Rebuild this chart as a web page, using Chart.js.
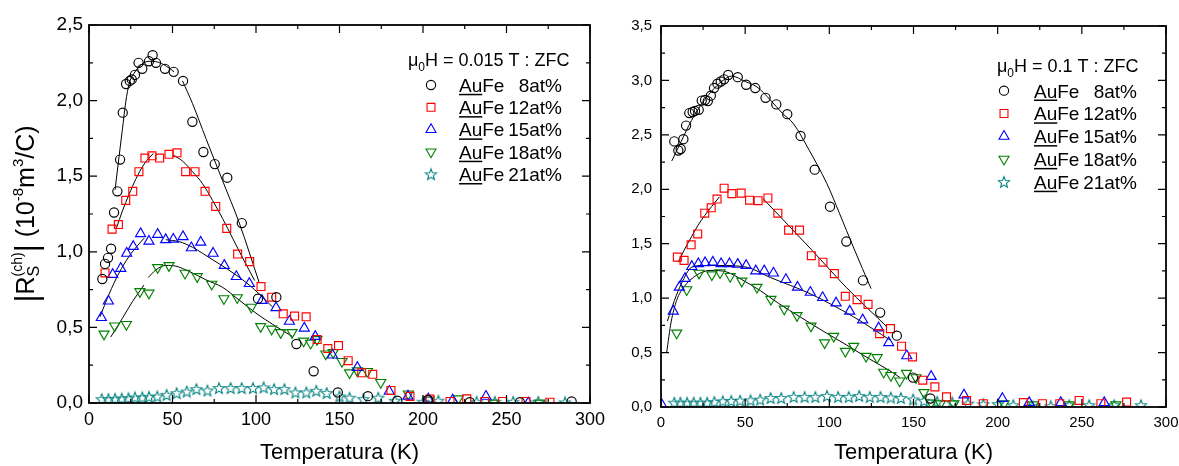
<!DOCTYPE html>
<html>
<head>
<meta charset="utf-8">
<script src="https://cdn.jsdelivr.net/npm/chart.js@4.4.1/dist/chart.umd.min.js"></script>
<style>
  html, body { margin: 0; padding: 0; background: #fff; }
  #wrap { position: relative; width: 1179px; height: 466px; overflow: hidden; }
  canvas { position: absolute; top: 0; }
</style>
</head>
<body>
<div id="wrap">
  <canvas id="panelA" width="620" height="466" style="left:0"></canvas>
  <canvas id="panelB" width="579" height="466" style="left:600px"></canvas>
</div>
<script>
// ---- data: panel A (mu0H = 0.015 T, ZFC) ----
const seriesNames = ['8at%', '12at%', '15at%', '18at%', '21at%'];

const tempA8 = [8.0, 9.6, 11.4, 13.2, 15.0, 17.0, 18.6, 20.2, 22.2, 24.4, 25.6, 27.5, 29.7, 31.9, 35.9, 38.1, 40.1, 45.5, 50.7, 56.3, 61.9, 68.5, 75.3, 82.8, 91.5, 101.2, 112.2, 124.2, 134.5, 149.0, 167.0, 184.6, 203.0, 228.0, 258.0, 289.0];
const rsA8   = [0.82, 0.92, 0.96, 1.02, 1.26, 1.40, 1.61, 1.92, 2.11, 2.13, 2.14, 2.17, 2.25, 2.21, 2.26, 2.30, 2.25, 2.21, 2.19, 2.13, 1.86, 1.66, 1.58, 1.49, 1.19, 0.69, 0.70, 0.39, 0.21, 0.07, 0.045, 0.015, 0.02, 0.005, 0.005, 0.01];

const tempA12 = [9.6, 13.8, 17.6, 22.0, 26.2, 29.9, 33.5, 37.7, 42.3, 47.9, 52.7, 57.9, 63.5, 69.5, 75.9, 82.5, 89.0, 96.2, 103.0, 109.4, 116.3, 123.1, 130.0, 136.6, 143.0, 149.4, 155.2, 163.3, 169.9, 180.8, 192.2, 204.2, 216.2, 226.2, 237.0, 247.7, 261.7, 276.0];
const rsA12   = [0.86, 1.15, 1.18, 1.34, 1.40, 1.53, 1.62, 1.635, 1.62, 1.645, 1.655, 1.53, 1.53, 1.40, 1.30, 1.155, 0.985, 0.935, 0.77, 0.70, 0.59, 0.575, 0.57, 0.42, 0.36, 0.38, 0.28, 0.20, 0.19, 0.083, 0.044, 0.026, 0.01, 0.028, 0.01, 0.01, 0.01, 0.005];

const tempA15 = [7.4, 11.6, 14.2, 19.0, 22.6, 26.5, 30.9, 35.9, 41.1, 45.9, 50.5, 56.3, 61.3, 66.9, 74.3, 81.0, 88.2, 96.0, 103.6, 112.0, 120.0, 128.9, 135.5, 145.8, 160.7, 179.8, 191.0, 203.2, 217.8, 237.7, 263.0];
const rsA15   = [0.565, 0.674, 0.85, 0.89, 0.99, 1.035, 1.12, 1.07, 1.115, 1.08, 1.083, 1.10, 1.026, 1.063, 0.99, 0.91, 0.836, 0.79, 0.678, 0.63, 0.54, 0.495, 0.44, 0.317, 0.235, 0.077, 0.045, 0.026, 0.02, 0.044, 0.0];

const tempA18 = [9.0, 15.4, 22.4, 30.5, 35.9, 41.1, 47.9, 57.5, 64.8, 73.5, 80.8, 88.8, 97.2, 102.8, 109.4, 114.8, 121.6, 128.5, 132.7, 136.5, 141.8, 146.2, 151.5, 156.0, 160.7, 166.7, 174.7, 191.2, 203.6, 221.1, 242.0, 270.0];
const rsA18   = [0.456, 0.51, 0.52, 0.737, 0.727, 0.896, 0.909, 0.859, 0.836, 0.786, 0.69, 0.697, 0.634, 0.506, 0.489, 0.466, 0.466, 0.41, 0.396, 0.42, 0.325, 0.334, 0.275, 0.20, 0.213, 0.209, 0.136, 0.06, 0.02, 0.028, 0.0, 0.0];

const tempA21 = [7.6, 11.6, 15.6, 19.6, 23.6, 27.5, 31.9, 35.9, 40.9, 46.5, 52.5, 58.5, 64.3, 70.9, 77.8, 84.8, 91.4, 98.2, 104.6, 110.8, 117.0, 123.6, 130.1, 136.1, 142.3, 150.0, 156.0, 164.3, 173.2, 183.2, 200.2, 209.2, 232.1, 243.0, 254.0, 269.0, 285.0];
const rsA21   = [0.026, 0.026, 0.028, 0.03, 0.032, 0.037, 0.037, 0.041, 0.043, 0.054, 0.065, 0.076, 0.092, 0.083, 0.099, 0.099, 0.099, 0.099, 0.103, 0.092, 0.092, 0.070, 0.070, 0.081, 0.066, 0.044, 0.035, 0.026, 0.035, 0.015, 0.008, 0.015, 0.008, 0.008, 0.008, 0.008, 0.004];

// guide-to-the-eye curves, panel A
const fitA8aT  = [15.6, 18, 20, 22, 24, 27, 31, 36, 41, 46, 51];
const fitA8aR  = [1.41, 1.63, 1.81, 1.99, 2.11, 2.18, 2.235, 2.26, 2.255, 2.23, 2.19];
const fitA8bT  = [56, 62, 70, 80, 90, 101.8];
const fitA8bR  = [2.13, 1.98, 1.75, 1.47, 1.19, 0.80];
const fitA12aT = [16.4, 20, 24, 28, 33, 38.5];
const fitA12aR = [1.156, 1.27, 1.38, 1.48, 1.58, 1.65];
const fitA12bT = [50.5, 56, 62, 68, 74, 80, 86, 92, 99.2];
const fitA12bR = [1.64, 1.60, 1.53, 1.45, 1.34, 1.22, 1.09, 0.96, 0.81];
const fitA15aT = [6.6, 12, 18, 24, 29, 33];
const fitA15aR = [0.57, 0.72, 0.86, 0.97, 1.04, 1.09];
const fitA15bT = [46, 54, 62, 68, 78, 88, 96, 102, 110];
const fitA15bR = [1.08, 1.067, 1.03, 0.99, 0.92, 0.847, 0.78, 0.72, 0.634];
const fitA18aT = [13, 20, 26, 32.9];
const fitA18aR = [0.436, 0.56, 0.67, 0.78];
const fitA18bT = [35.5, 40, 46, 52, 60, 70, 80, 90, 100, 110, 121.8];
const fitA18bR = [0.83, 0.88, 0.91, 0.905, 0.87, 0.815, 0.765, 0.68, 0.594, 0.52, 0.44];

// ---- data: panel B (mu0H = 0.1 T, ZFC) ----
const tempB8 = [7.9, 10.3, 11.7, 13.3, 14.9, 16.8, 18.8, 20.2, 22.4, 24.2, 26.2, 27.8, 29.6, 31.5, 33.5, 35.5, 37.5, 39.9, 45.6, 50.6, 56.0, 62.1, 68.5, 75.0, 82.9, 91.3, 100.4, 110.1, 120.0, 130.2, 140.1, 149.7, 160.0];
const rsB8   = [2.44, 2.356, 2.37, 2.46, 2.585, 2.70, 2.71, 2.72, 2.73, 2.815, 2.82, 2.81, 2.86, 2.93, 2.97, 2.99, 3.01, 3.05, 3.03, 2.96, 2.93, 2.84, 2.78, 2.69, 2.49, 2.18, 1.84, 1.52, 1.163, 0.867, 0.655, 0.27, 0.078];

const tempB12 = [9.7, 13.7, 17.9, 21.8, 26.0, 29.8, 33.3, 37.5, 42.1, 47.6, 52.6, 57.7, 63.5, 69.4, 75.8, 82.3, 89.3, 96.2, 103.0, 109.5, 116.5, 123.0, 129.9, 136.3, 142.9, 149.4, 155.5, 162.7, 169.6, 181.5, 191.5, 215.3, 226.6, 236.9, 248.4, 261.3, 276.6];
const rsB12   = [1.377, 1.347, 1.49, 1.59, 1.78, 1.83, 1.91, 2.01, 1.96, 1.965, 1.90, 1.895, 1.92, 1.78, 1.625, 1.625, 1.39, 1.33, 1.225, 1.017, 0.986, 0.943, 0.674, 0.72, 0.558, 0.46, 0.246, 0.185, 0.093, 0.06, 0.03, 0.04, 0.03, 0.03, 0.06, 0.03, 0.045];

const tempB15 = [0.5, 7.3, 10.9, 14.3, 18.3, 22.2, 26.2, 30.8, 35.7, 40.7, 45.6, 50.6, 56.3, 61.3, 66.8, 74.2, 81.1, 88.7, 96.0, 104.0, 112.1, 119.8, 129.3, 135.3, 146.0, 160.5, 180.0, 202.8, 218.7, 237.5, 263.3];
const rsB15   = [0.02, 0.88, 1.10, 1.18, 1.29, 1.316, 1.325, 1.33, 1.316, 1.316, 1.31, 1.30, 1.25, 1.25, 1.23, 1.17, 1.10, 1.053, 1.005, 0.955, 0.88, 0.80, 0.726, 0.59, 0.47, 0.28, 0.11, 0.078, 0.04, 0.04, 0.04];

const tempB18 = [9.3, 15.3, 22.6, 30.2, 35.1, 41.1, 48.0, 57.0, 65.3, 73.2, 80.8, 89.1, 97.2, 102.6, 109.5, 114.5, 121.8, 128.4, 132.3, 136.6, 141.8, 145.8, 151.5, 156.2, 160.5, 166.0, 174.0, 203.8, 221.2, 242.5, 270.2];
const rsB18   = [0.68, 1.078, 1.23, 1.215, 1.234, 1.20, 1.157, 1.10, 0.989, 0.90, 0.84, 0.744, 0.59, 0.65, 0.512, 0.558, 0.466, 0.454, 0.32, 0.29, 0.24, 0.31, 0.27, 0.133, 0.038, 0.03, 0.03, 0.03, 0.02, 0.02, 0.02];

const tempB21 = [7.9, 11.5, 15.5, 19.4, 23.4, 27.4, 31.7, 36.7, 41.7, 47.0, 53.2, 58.9, 65.1, 71.4, 78.8, 85.3, 91.7, 98.6, 105.2, 111.5, 117.7, 124.0, 130.4, 136.5, 142.5, 149.8, 156.2, 164.1, 173.0, 182.3, 191.5, 200.2, 209.3, 220.6, 231.5, 242.5, 254.4, 269.2, 285.1];
const rsB21   = [0.04, 0.04, 0.04, 0.04, 0.04, 0.04, 0.047, 0.053, 0.056, 0.059, 0.062, 0.068, 0.083, 0.083, 0.093, 0.093, 0.093, 0.102, 0.093, 0.093, 0.102, 0.093, 0.093, 0.087, 0.083, 0.069, 0.057, 0.048, 0.042, 0.032, 0.026, 0.026, 0.017, 0.008, 0.008, 0.017, 0.017, 0.017, 0.017];

// guide-to-the-eye curves, panel B
const fitB8T   = [6.4, 12, 18, 24, 30, 36, 42, 50, 57, 65, 72, 78.8, 88, 98.6, 106, 114.5, 124.8];
const fitB8R   = [2.26, 2.44, 2.63, 2.78, 2.90, 2.99, 3.04, 2.99, 2.94, 2.82, 2.70, 2.60, 2.36, 2.05, 1.78, 1.46, 1.087];
const fitB12aT = [10.3, 13.7, 18, 22, 26, 30, 34.7];
const fitB12aR = [1.33, 1.44, 1.56, 1.67, 1.76, 1.84, 1.93];
const fitB12bT = [60.9, 75, 89.7, 110, 134.3];
const fitB12bR = [1.91, 1.68, 1.44, 1.10, 0.735];
const fitB15T  = [3.8, 8, 12, 18.3, 25, 35, 50.6, 64.9, 88.7, 114.5, 136.3];
const fitB15R  = [0.79, 0.98, 1.13, 1.285, 1.30, 1.30, 1.285, 1.19, 1.04, 0.827, 0.613];
const fitB18T  = [3.4, 6, 9.3, 14, 19.2, 24, 29.2, 39.1, 48, 58.9, 70, 82.7, 96, 110.5, 124, 138.3, 142];
const fitB18R  = [0.505, 0.78, 0.98, 1.11, 1.19, 1.235, 1.255, 1.24, 1.17, 1.07, 0.95, 0.827, 0.70, 0.567, 0.44, 0.31, 0.27];

// ---- drawing ----
const FONT = '"Liberation Sans", Arial, Helvetica, sans-serif';

const pts = (xs, ys) => xs.map((x, i) => ({ x: x, y: ys[i] }));

function starImage(color) {
  const c = document.createElement('canvas');
  c.width = 14; c.height = 14;
  const g = c.getContext('2d');
  g.strokeStyle = color;
  g.lineWidth = 1.1;
  g.beginPath();
  for (let i = 0; i < 10; i++) {
    const r = i % 2 ? 2.5 : 5.8;
    const a = -Math.PI / 2 + i * Math.PI / 5;
    const px = 7 + r * Math.cos(a), py = 7.6 + r * Math.sin(a);
    if (i === 0) g.moveTo(px, py); else g.lineTo(px, py);
  }
  g.closePath();
  g.stroke();
  return c;
}

const markers = [
  { color: '#000000', style: 'circle', radius: 4.6, rotation: 0 },
  { color: '#ff0000', style: 'rect', radius: 5.6, rotation: 0 },
  { color: '#0000ff', style: 'triangle', radius: 5.8, rotation: 0 },
  { color: '#008000', style: 'triangle', radius: 5.8, rotation: 180 },
  { color: '#008080', style: starImage('#008080'), radius: 5, rotation: 0 }
];

function markerSet(i, xs, ys) {
  const m = markers[i];
  return {
    data: pts(xs, ys),
    showLine: false,
    pointStyle: m.style,
    pointRadius: m.radius,
    pointRotation: m.rotation,
    borderColor: m.color,
    pointBorderColor: m.color,
    backgroundColor: 'rgba(0,0,0,0)',
    pointBackgroundColor: 'rgba(0,0,0,0)',
    pointBorderWidth: 1.15
  };
}

function fitSet(xs, ys) {
  return {
    data: pts(xs, ys),
    showLine: true,
    pointRadius: 0,
    borderColor: '#000',
    borderWidth: 1,
    tension: 0.4,
    cubicInterpolationMode: 'monotone',
    fill: false
  };
}

// box around the plot with inward major/minor ticks on all four sides
const frame = {
  id: 'frame',
  afterDraw(chart) {
    const { ctx, chartArea: a } = chart;
    const x = chart.scales.x, y = chart.scales.y;
    ctx.save();
    ctx.strokeStyle = '#000';
    ctx.lineWidth = 1.2;
    ctx.beginPath();
    const xv = x.ticks.map(t => t.value);
    xv.forEach((v, i) => {
      const p = x.getPixelForValue(v);
      ctx.moveTo(p, a.bottom); ctx.lineTo(p, a.bottom - 8);
      ctx.moveTo(p, a.top); ctx.lineTo(p, a.top + 8);
      if (i < xv.length - 1) {
        const m = x.getPixelForValue((v + xv[i + 1]) / 2);
        ctx.moveTo(m, a.bottom); ctx.lineTo(m, a.bottom - 4);
        ctx.moveTo(m, a.top); ctx.lineTo(m, a.top + 4);
      }
    });
    const yv = y.ticks.map(t => t.value);
    yv.forEach((v, i) => {
      const p = y.getPixelForValue(v);
      ctx.moveTo(a.left, p); ctx.lineTo(a.left + 8, p);
      ctx.moveTo(a.right, p); ctx.lineTo(a.right - 8, p);
      if (i < yv.length - 1) {
        const m = y.getPixelForValue((v + yv[i + 1]) / 2);
        ctx.moveTo(a.left, m); ctx.lineTo(a.left + 4, m);
        ctx.moveTo(a.right, m); ctx.lineTo(a.right - 4, m);
      }
    });
    ctx.stroke();
    ctx.lineWidth = 1.8;
    ctx.strokeRect(a.left, a.top, a.right - a.left, a.bottom - a.top);
    ctx.restore();
  }
};

// axis titles and the in-plot legend
const notes = {
  id: 'notes',
  afterDraw(chart, args, o) {
    const ctx = chart.ctx, a = chart.chartArea;
    ctx.save();
    ctx.fillStyle = '#000';
    ctx.textBaseline = 'alphabetic';

    ctx.font = '22px ' + FONT;
    ctx.textAlign = 'center';
    ctx.fillText('Temperatura (K)', (a.left + a.right) / 2, o.xTitleY);

    // legend title: mu0H = ... T : ZFC
    ctx.textAlign = 'left';
    let lx = o.titleX;
    ctx.font = '18px ' + FONT;
    ctx.fillText('\u03bc', lx, o.titleY);
    lx += ctx.measureText('\u03bc').width;
    ctx.font = '12px ' + FONT;
    ctx.fillText('0', lx, o.titleY + 5);
    lx += ctx.measureText('0').width;
    ctx.font = '18px ' + FONT;
    ctx.fillText('H = ' + o.field + ' T : ZFC', lx, o.titleY);

    // legend rows
    seriesNames.forEach((name, i) => {
      const ds = chart.data.datasets[i];
      const cy = o.rowY0 + i * o.rowStep;
      ctx.save();
      ctx.strokeStyle = ds.borderColor;
      ctx.fillStyle = 'rgba(0,0,0,0)';
      ctx.lineWidth = 1.1;
      Chart.helpers.drawPoint(ctx, {
        pointStyle: ds.pointStyle, rotation: ds.pointRotation,
        radius: ds.pointRadius, borderWidth: 1.1
      }, o.markX, cy);
      ctx.restore();
      const by = cy + 6.8;
      ctx.font = '19px ' + FONT;
      ctx.textAlign = 'left';
      ctx.fillText('Au', o.textX, by);
      const wAu = ctx.measureText('Au').width;
      ctx.fillText('Fe', o.textX + wAu, by);
      ctx.fillRect(o.textX, by + 2, wAu, 1.5);
      ctx.textAlign = 'right';
      ctx.fillText(name, o.textEnd, by);
    });

    // rotated y title: |R_S^(ch)| (10^-8 m^3/C)
    if (o.yTitleX) {
      const parts = [
        { t: '|', size: 31, dy: 3 },
        { t: 'R', size: 25, dy: 0 },
        { t: 'S', size: 16, dy: 5, sup: '(ch)', supSize: 14, supDy: -12 },
        { t: '|', size: 31, dy: 3 },
        { t: ' (10', size: 25, dy: 0 },
        { t: '-8', size: 15, dy: -11 },
        { t: 'm', size: 25, dy: 0 },
        { t: '3', size: 15, dy: -11 },
        { t: '/C)', size: 25, dy: 0 }
      ];
      const width = p => {
        ctx.font = p.size + 'px ' + FONT;
        let w = ctx.measureText(p.t).width;
        if (p.sup) {
          ctx.font = p.supSize + 'px ' + FONT;
          w = Math.max(w, ctx.measureText(p.sup).width);
        }
        return w;
      };
      const total = parts.reduce((s, p) => s + width(p), 0);
      ctx.translate(o.yTitleX, (a.top + a.bottom) / 2);
      ctx.rotate(-Math.PI / 2);
      ctx.textAlign = 'left';
      let px = -total / 2;
      parts.forEach(p => {
        const w = width(p);
        ctx.font = p.size + 'px ' + FONT;
        ctx.fillText(p.t, px, p.dy);
        if (p.sup) {
          ctx.font = p.supSize + 'px ' + FONT;
          ctx.fillText(p.sup, px, p.supDy);
        }
        px += w;
      });
    }
    ctx.restore();
  }
};

function makePanel(id, sets, fits, geo) {
  const datasets = sets.map((s, i) => markerSet(i, s[0], s[1]))
    .concat(fits.map(f => fitSet(f[0], f[1])));
  return new Chart(document.getElementById(id), {
    type: 'scatter',
    data: { datasets: datasets },
    plugins: [frame, notes],
    options: {
      responsive: false,
      animation: false,
      events: [],
      layout: { padding: { left: 0, top: geo.top, right: geo.right, bottom: 0 } },
      plugins: {
        legend: { display: false },
        tooltip: { enabled: false },
        notes: geo.notes
      },
      scales: {
        x: {
          type: 'linear', min: 0, max: 300,
          afterFit(s) { s.height = geo.xAxisH; s.paddingLeft = 0; s.paddingRight = 0; },
          grid: { display: false, drawTicks: false },
          border: { display: false },
          ticks: { stepSize: 50, maxRotation: 0, color: '#000', padding: geo.xPad,
                   font: { family: FONT, size: geo.xFont } }
        },
        y: {
          type: 'linear', min: 0, max: geo.ymax,
          afterFit(s) { s.width = geo.yAxisW; s.paddingTop = 0; s.paddingBottom = 0; },
          grid: { display: false, drawTicks: false },
          border: { display: false },
          ticks: { stepSize: 0.5, color: '#000', padding: geo.yPad,
                   font: { family: FONT, size: geo.yFont },
                   callback: v => v.toFixed(1).replace('.', ',') }
        }
      }
    }
  });
}

makePanel('panelA',
  [[tempA8, rsA8], [tempA12, rsA12], [tempA15, rsA15], [tempA18, rsA18], [tempA21, rsA21]],
  [[fitA8aT, fitA8aR], [fitA8bT, fitA8bR], [fitA12aT, fitA12aR], [fitA12bT, fitA12bR],
   [fitA15aT, fitA15aR], [fitA15bT, fitA15bR], [fitA18aT, fitA18aR], [fitA18bT, fitA18bR]],
  { top: 25, right: 30, xAxisH: 63, yAxisW: 89, ymax: 2.5, xFont: 18, yFont: 19, xPad: 6, yPad: 6,
    notes: { xTitleY: 459, titleX: 408, titleY: 66, markX: 431, textX: 459, textEnd: 562,
             rowY0: 85, rowStep: 22.3, field: '0.015', yTitleX: 34 } });

makePanel('panelB',
  [[tempB8, rsB8], [tempB12, rsB12], [tempB15, rsB15], [tempB18, rsB18], [tempB21, rsB21]],
  [[fitB8T, fitB8R], [fitB12aT, fitB12aR], [fitB12bT, fitB12bR], [fitB15T, fitB15R], [fitB18T, fitB18R]],
  { top: 26, right: 13, xAxisH: 59, yAxisW: 61, ymax: 3.5, xFont: 15, yFont: 15, xPad: 7, yPad: 9,
    notes: { xTitleY: 459, titleX: 397, titleY: 71.5, markX: 404, textX: 434, textEnd: 537,
             rowY0: 90.7, rowStep: 22.8, field: '0.1', yTitleX: 0 } });
</script>
</body>
</html>
